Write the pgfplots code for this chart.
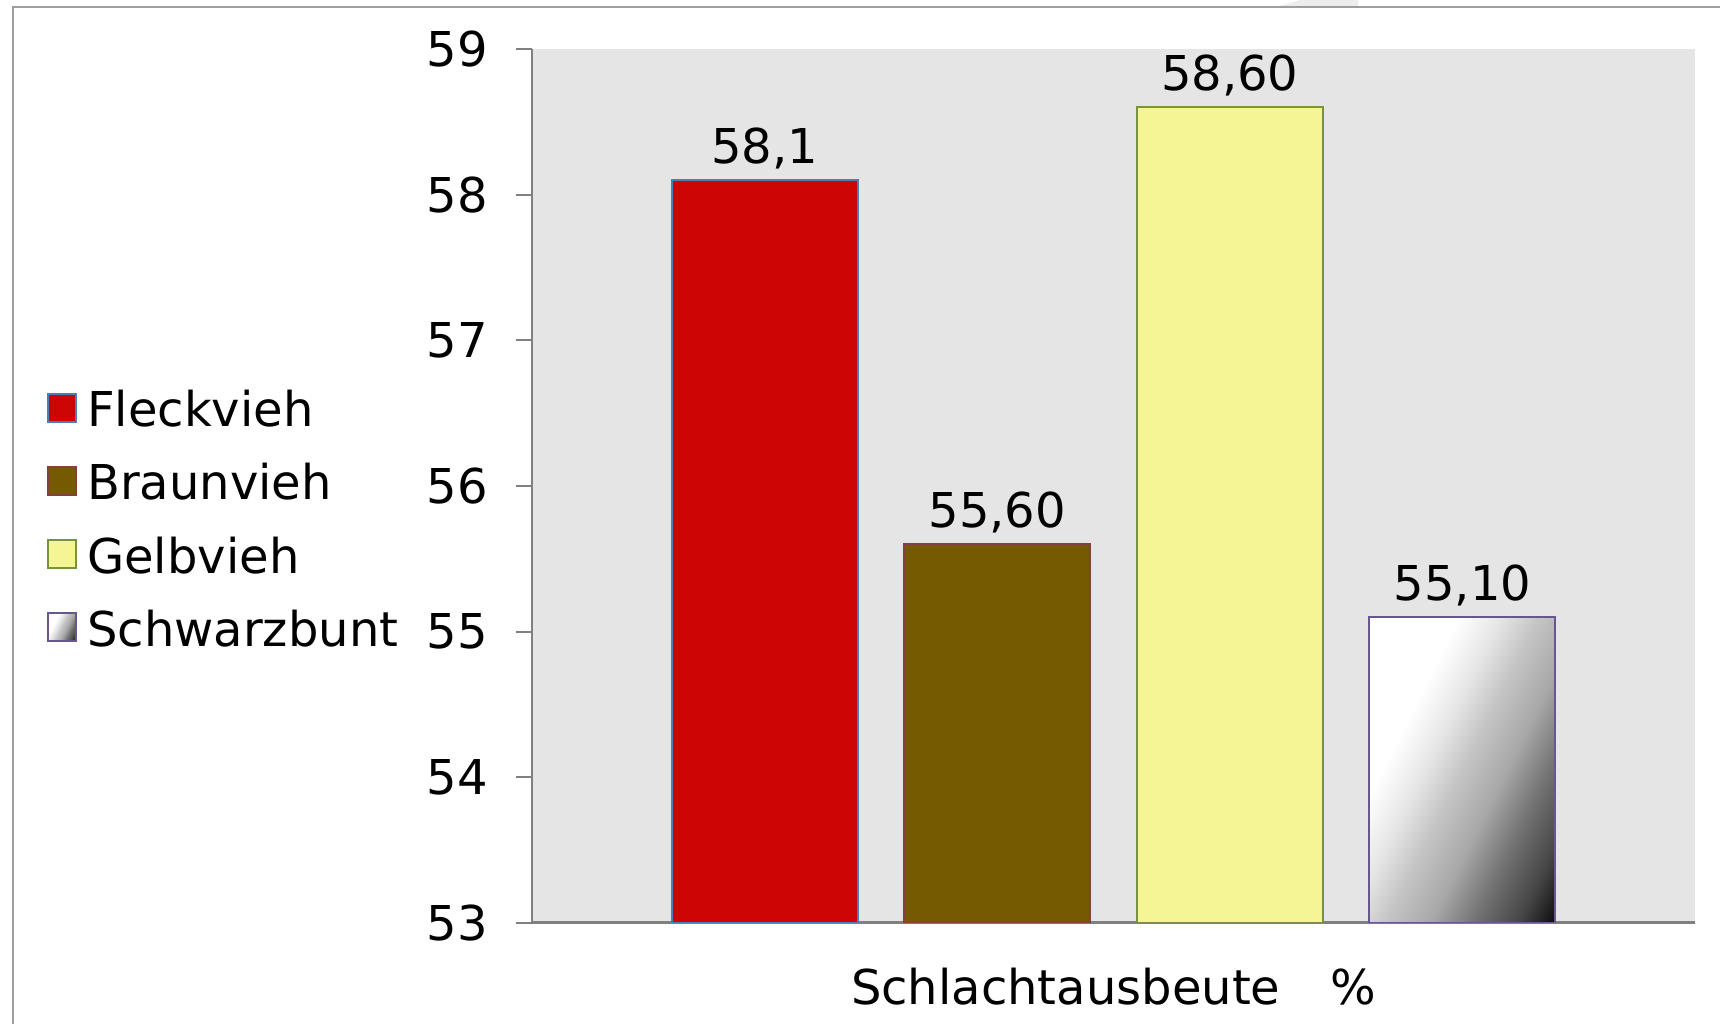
\documentclass[border=0pt]{standalone}
\usepackage{pgfplots}
\pgfplotsset{compat=1.18}
\usepackage{fontspec}
\setmainfont{DejaVu Sans}

\definecolor{flrot}{RGB}{205,5,5}
\definecolor{flrand}{RGB}{74,126,187}
\definecolor{braun}{RGB}{118,90,0}
\definecolor{braunrand}{RGB}{139,60,60}
\definecolor{gelb}{RGB}{245,245,150}
\definecolor{gelbrand}{RGB}{119,147,60}
\definecolor{swrand}{RGB}{104,86,140}
\definecolor{achse}{RGB}{128,128,128}

% white top left, black bottom right
\pgfdeclareverticalshading{schwarzbunt}{100bp}{color(0bp)=(black); color(15bp)=(black); color(24bp)=(white!28!black); color(32.6bp)=(white!45!black); color(41.3bp)=(white!66!black); color(50bp)=(white!77!black); color(57.5bp)=(white!90!black); color(66bp)=(white); color(100bp)=(white)}

\newcommand{\schrift}{\fontsize{12}{14.4}\selectfont}

\begin{document}
\begin{tikzpicture}
\useasboundingbox (0,0) rectangle (430pt,256pt);
% frame of the chart (cut at right and bottom)
\fill[black!7] (319.25pt,254.25pt) -- (325pt,256pt) -- (339.5pt,256pt) -- (339.5pt,254.25pt) -- cycle;
\draw[line width=0.6pt, color=black!38] (3.25pt,-2pt) -- (3.25pt,254.25pt) -- (433pt,254.25pt);

\begin{axis}[
    at={(133pt,25.25pt)}, anchor=south west,
    scale only axis,
    width=290.75pt, height=218.45pt,
    xmin=-1, xmax=4,
    ymin=53, ymax=59,
    xtick=\empty,
    ytick={53,54,55,56,57,58,59},
    axis x line*=bottom,
    axis y line*=left,
    axis background/.style={fill=black!10},
    x axis line style={achse, line width=0.75pt},
    y axis line style={achse, line width=0.5pt},
    tick align=outside,
    major tick length=4pt,
    tick style={achse, line width=0.5pt},
    /pgf/number format/assume math mode=true,
    yticklabel style={font=\schrift, xshift=-3.5pt},
    xlabel={Schlachtausbeute\hspace{12.5pt}\%},
    xlabel style={font=\schrift, at={(axis description cs:0.5,0)}, anchor=center, yshift=-16pt},
    point meta=explicit symbolic,
    nodes near coords,
    every node near coord/.append style={font=\schrift, color=black, inner sep=2.5pt},
    legend image code/.code={\draw[#1] (0pt,-1.85pt) rectangle (7pt,5.15pt); \path (9.6pt,0pt);},
    legend style={
        at={(axis description cs:-0.4179,0.4564)}, anchor=west,
        draw=none, fill=none, inner sep=0pt,
        font=\schrift, row sep=6.9pt,
        nodes={inner sep=0pt, text height=8.8pt, text depth=2.6pt},
    },
    legend cell align=left,
]

\addplot[ybar, bar shift=0pt, bar width=0.8, fill=flrot, draw=flrand, line width=0.5pt]
    coordinates {(0,58.1) [58{,}1]};
\addlegendentry{Fleckvieh}

\addplot[ybar, bar shift=0pt, bar width=0.8, fill=braun, draw=braunrand, line width=0.5pt]
    coordinates {(1,55.6) [55{,}60]};
\addlegendentry{Braunvieh}

\addplot[ybar, bar shift=0pt, bar width=0.8, fill=gelb, draw=gelbrand, line width=0.5pt]
    coordinates {(2,58.6) [58{,}60]};
\addlegendentry{Gelbvieh}

\addplot[ybar, bar shift=0pt, bar width=0.8, shade, shading=schwarzbunt, shading angle=63.4, draw=swrand, line width=0.5pt]
    coordinates {(3,55.1) [55{,}10]};
\addlegendentry{Schwarzbunt}

\end{axis}
\end{tikzpicture}
\end{document}
